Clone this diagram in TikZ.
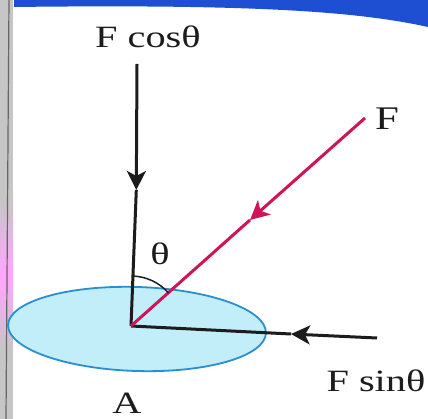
\documentclass[tikz,border=0pt]{standalone}
\usepackage{fontspec}
\setmainfont{Liberation Serif}[FakeStretch=1.3]
\usetikzlibrary{arrows.meta,shapes.geometric}
\definecolor{vecblack}{HTML}{1C1C1C}
\definecolor{vecred}{HTML}{D0145A}
\definecolor{diskfill}{HTML}{C2EEF9}
\definecolor{diskline}{HTML}{2A8FD0}
\definecolor{bandblue}{HTML}{1E4FD2}
\begin{document}
\begin{tikzpicture}[x=1pt,y=-1pt,
  vec/.style={line width=3pt,draw=vecblack},
  redvec/.style={line width=3pt,draw=vecred},
  tipb/.style={-{Stealth[length=19pt,width=19pt,inset=5pt]}},
  lab/.style={font=\fontsize{31}{33}\selectfont,text=vecblack,inner sep=0pt},
]
\useasboundingbox (0,0) rectangle (428,419);
\fill[white] (0,0) rectangle (428,419);
% page edge and blue band of the photo
\fill[bandblue] (14,0) -- (428,0) -- (428,27) .. controls (360,12) and (260,4) .. (14,7) -- cycle;
\fill[gray!45] (0,0) rectangle (13,419);
\shade[top color=gray!45,bottom color=gray!45,middle color=magenta!35] (0,200) rectangle (13,350);
\draw[gray!80!black,line width=1.2pt] (9,0) -- (6,419);

% disk
\node[ellipse,draw=diskline,fill=diskfill,line width=1.8pt,minimum width=258pt,minimum height=84pt,rotate=-1.8] (disk) at (137,329) {};

% coordinates
\coordinate (O) at (131,326);
\coordinate (vtop) at (137,64);
\coordinate (varr) at (136.3,190);
\coordinate (ftop) at (365,118);
\coordinate (farr) at (250,220);
\coordinate (hend) at (377,338);
\coordinate (harr) at (291,334);

% vectors
\draw[vec,tipb] (vtop) -- (varr);
\draw[vec] (varr) -- (O);
\draw[vec,tipb] (hend) -- (harr);
\draw[vec] (harr) -- (O);
\draw[redvec,tipb] (ftop) -- (farr);
\draw[redvec] (farr) -- (O);

% angle
\draw[vecblack,line width=1.5pt] (O) ++(-88.7:50) arc[start angle=-88.7,end angle=-41.5,radius=50];

% labels
\node[lab] (lcos) at (148,37) {F cosθ};
\node[lab,font=\fontsize{33}{35}\selectfont] (lF) at (387,119) {F};
\node[lab] (lsin) at (376,381) {F sinθ};
\node[lab] (lA) at (127,403) {A};
\node[lab] (lth) at (160,254) {θ};
\end{tikzpicture}
\end{document}
